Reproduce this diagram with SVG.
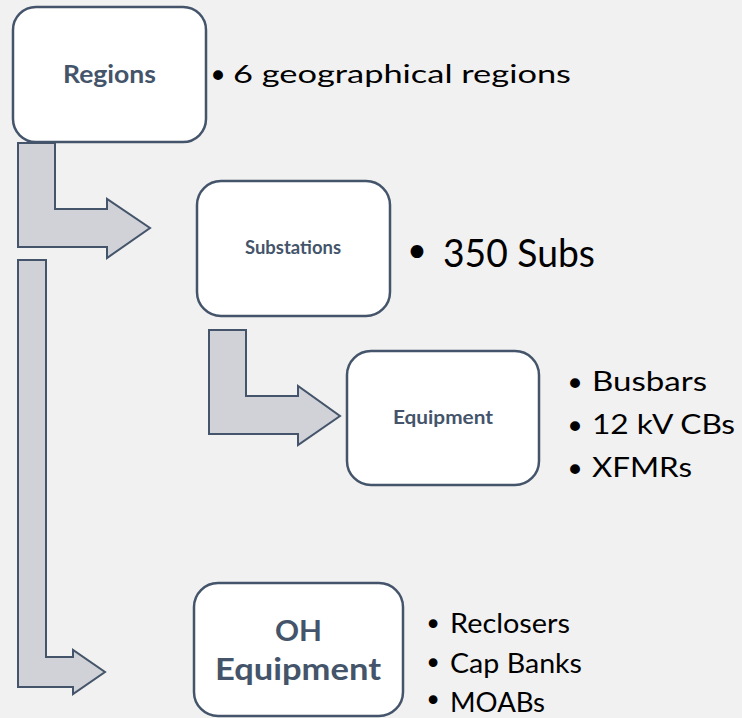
<svg xmlns="http://www.w3.org/2000/svg" width="742" height="718" viewBox="0 0 742 718">
  <style>
    .box { fill: #ffffff; stroke: #44546a; stroke-width: 2.5; }
    .arrow { fill: #d0d2d7; stroke: #44546a; stroke-width: 2; stroke-linejoin: miter; }
    .label { font-family: Lato, "Liberation Sans", sans-serif; font-weight: bold; fill: #44546a; text-anchor: middle; }
    .item { font-family: Lato, "Liberation Sans", sans-serif; fill: #000000; }
    .dot { font-family: "DejaVu Sans", sans-serif; fill: #000000; text-anchor: middle; }
  </style>
  <rect width="742" height="718" fill="#f1f1f1"/>

  <!-- elbow arrows -->
  <g id="connectors">
    <polygon class="arrow" points="18,143 55,143 55,209 107,209 107,199 150,228 107,258 107,247 18,247"/>
    <polygon class="arrow" points="18,260 46,260 46,657 73,657 73,650 105,672 73,694 73,687 18,687"/>
    <polygon class="arrow" points="209,330 246,330 246,396 298,396 298,386 340,416 298,445 298,434 209,434"/>
  </g>

  <g id="regions">
    <rect class="box" x="13" y="7" width="193" height="135" rx="23"/>
    <text class="label" x="109.5" y="83" font-size="25" textLength="93" lengthAdjust="spacingAndGlyphs">Regions</text>
    <text class="dot" x="218" y="88" font-size="34">•</text>
    <text class="item" x="233" y="83" font-size="25.5" textLength="338" lengthAdjust="spacingAndGlyphs">6 geographical regions</text>
  </g>

  <g id="substations">
    <rect class="box" x="197" y="181" width="193" height="135" rx="24"/>
    <text class="label" x="293" y="254" font-size="18.5" textLength="96" lengthAdjust="spacingAndGlyphs">Substations</text>
    <text class="dot" x="417" y="268" font-size="44">•</text>
    <text class="item" x="443" y="267" font-size="39" textLength="152" lengthAdjust="spacingAndGlyphs">350 Subs</text>
  </g>

  <g id="equipment">
    <rect class="box" x="347" y="351" width="192" height="134" rx="24"/>
    <text class="label" x="443" y="424" font-size="19.5" textLength="100" lengthAdjust="spacingAndGlyphs">Equipment</text>
    <text class="dot" x="575" y="396" font-size="34">•</text>
    <text class="item" x="592" y="391" font-size="27" textLength="115" lengthAdjust="spacingAndGlyphs">Busbars</text>
    <text class="dot" x="575" y="439" font-size="34">•</text>
    <text class="item" x="592" y="434" font-size="27" textLength="143" lengthAdjust="spacingAndGlyphs">12 kV CBs</text>
    <text class="dot" x="575" y="482" font-size="34">•</text>
    <text class="item" x="592" y="477" font-size="27" textLength="100" lengthAdjust="spacingAndGlyphs">XFMRs</text>
  </g>

  <g id="oh-equipment">
    <rect class="box" x="194" y="583" width="209" height="133" rx="24"/>
    <text class="label" x="298.5" y="641" font-size="29" textLength="47" lengthAdjust="spacingAndGlyphs">OH</text>
    <text class="label" x="298" y="680" font-size="30" textLength="166" lengthAdjust="spacingAndGlyphs">Equipment</text>
    <text class="dot" x="433" y="635" font-size="30">•</text>
    <text class="item" x="450" y="633" font-size="27" textLength="120" lengthAdjust="spacingAndGlyphs">Reclosers</text>
    <text class="dot" x="433" y="674" font-size="30">•</text>
    <text class="item" x="450" y="673" font-size="27" textLength="132" lengthAdjust="spacingAndGlyphs">Cap Banks</text>
    <text class="dot" x="433" y="710.5" font-size="30">•</text>
    <text class="item" x="450" y="711.5" font-size="27" textLength="95" lengthAdjust="spacingAndGlyphs">MOABs</text>
  </g>
</svg>
